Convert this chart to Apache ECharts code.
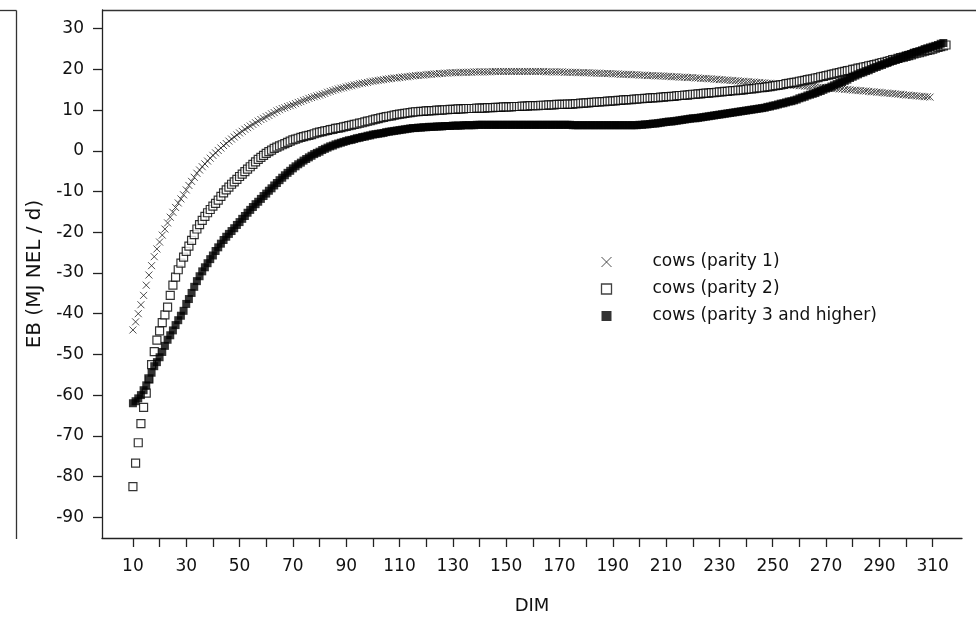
<!DOCTYPE html>
<html>
<head>
<meta charset="utf-8">
<title>Energy balance by days in milk</title>
<script src="https://cdn.jsdelivr.net/npm/echarts@6/dist/echarts.min.js"></script>
<style>
  html, body { margin: 0; padding: 0; background: #fff; }
  #chart { width: 978px; height: 620px; }
</style>
</head>
<body>
<div id="chart"></div>
<script>
// Days in milk: every series starts at this DIM and has one value per day.
const firstDim = 10;

// Energy balance (MJ NEL / d), parity 1, DIM 10..310
const parity1 = [
  -44.0, -42.0, -40.0, -37.8, -35.5, -33.0, -30.5, -28.2, -26.0, -24.1,
  -22.4, -20.7, -19.2, -17.7, -16.3, -15.1, -13.9, -12.8, -11.8, -10.8,
  -9.6, -8.5, -7.5, -6.5, -5.5, -4.7, -3.9, -3.2, -2.5, -1.8,
  -1.1, -0.5, 0.1, 0.7, 1.3, 1.8, 2.4, 2.9, 3.4, 3.9,
  4.4, 4.8, 5.3, 5.7, 6.1, 6.5, 6.9, 7.3, 7.7, 8.0,
  8.4, 8.7, 9.1, 9.4, 9.8, 10.1, 10.4, 10.6, 10.9, 11.1,
  11.3, 11.6, 11.9, 12.1, 12.4, 12.6, 12.9, 13.1, 13.3, 13.5,
  13.7, 13.9, 14.1, 14.4, 14.6, 14.8, 15.0, 15.2, 15.4, 15.5,
  15.7, 15.9, 16.0, 16.2, 16.3, 16.5, 16.6, 16.7, 16.8, 17.0,
  17.1, 17.2, 17.3, 17.4, 17.5, 17.6, 17.7, 17.8, 17.9, 17.9,
  18.0, 18.1, 18.2, 18.2, 18.3, 18.4, 18.5, 18.5, 18.6, 18.6,
  18.7, 18.8, 18.8, 18.9, 18.9, 19.0, 19.0, 19.1, 19.1, 19.2,
  19.2, 19.2, 19.2, 19.3, 19.3, 19.3, 19.3, 19.3, 19.4, 19.4,
  19.4, 19.4, 19.4, 19.4, 19.4, 19.5, 19.5, 19.5, 19.5, 19.5,
  19.5, 19.5, 19.5, 19.5, 19.5, 19.5, 19.5, 19.5, 19.5, 19.5,
  19.5, 19.5, 19.5, 19.5, 19.5, 19.4, 19.4, 19.4, 19.4, 19.4,
  19.4, 19.4, 19.3, 19.3, 19.3, 19.3, 19.3, 19.2, 19.2, 19.2,
  19.2, 19.2, 19.1, 19.1, 19.1, 19.1, 19.0, 19.0, 19.0, 19.0,
  18.9, 18.9, 18.9, 18.8, 18.8, 18.8, 18.8, 18.7, 18.7, 18.7,
  18.6, 18.6, 18.6, 18.5, 18.5, 18.5, 18.4, 18.4, 18.4, 18.4,
  18.3, 18.3, 18.2, 18.2, 18.2, 18.1, 18.1, 18.1, 18.0, 18.0,
  18.0, 17.9, 17.9, 17.8, 17.8, 17.8, 17.7, 17.7, 17.6, 17.6,
  17.5, 17.5, 17.4, 17.4, 17.3, 17.3, 17.2, 17.2, 17.1, 17.1,
  17.0, 17.0, 16.9, 16.9, 16.8, 16.8, 16.7, 16.7, 16.6, 16.6,
  16.5, 16.5, 16.4, 16.4, 16.3, 16.3, 16.2, 16.2, 16.1, 16.1,
  16.0, 16.0, 15.9, 15.9, 15.8, 15.8, 15.7, 15.6, 15.6, 15.5,
  15.5, 15.4, 15.4, 15.3, 15.3, 15.2, 15.2, 15.1, 15.1, 15.0,
  14.9, 14.9, 14.8, 14.8, 14.7, 14.7, 14.6, 14.5, 14.5, 14.4,
  14.4, 14.3, 14.2, 14.2, 14.1, 14.1, 14.0, 13.9, 13.9, 13.8,
  13.7, 13.7, 13.6, 13.6, 13.5, 13.4, 13.4, 13.3, 13.3, 13.2
];

// Energy balance (MJ NEL / d), parity 2, DIM 10..315
const parity2 = [
  -82.5, -76.7, -71.7, -67.0, -63.0, -59.5, -56.0, -52.5, -49.3, -46.5,
  -44.2, -42.2, -40.3, -38.4, -35.5, -33.0, -31.0, -29.2, -27.6, -26.1,
  -24.7, -23.4, -22.0, -20.6, -19.2, -18.1, -17.1, -16.1, -15.2, -14.4,
  -13.6, -12.9, -12.1, -11.2, -10.3, -9.6, -8.9, -8.2, -7.6, -7.0,
  -6.3, -5.7, -5.1, -4.5, -3.9, -3.3, -2.7, -2.1, -1.6, -1.1,
  -0.6, -0.2, 0.2, 0.6, 0.9, 1.2, 1.5, 1.8, 2.1, 2.4,
  2.7, 2.9, 3.1, 3.3, 3.5, 3.7, 3.8, 4.0, 4.2, 4.4,
  4.6, 4.7, 4.9, 5.0, 5.2, 5.3, 5.5, 5.6, 5.7, 5.9,
  6.0, 6.2, 6.3, 6.5, 6.6, 6.8, 6.9, 7.1, 7.3, 7.4,
  7.6, 7.8, 7.9, 8.1, 8.2, 8.4, 8.5, 8.6, 8.8, 8.9,
  9.0, 9.1, 9.2, 9.3, 9.4, 9.5, 9.6, 9.6, 9.7, 9.7,
  9.8, 9.8, 9.9, 9.9, 10.0, 10.0, 10.0, 10.1, 10.1, 10.2,
  10.2, 10.2, 10.3, 10.3, 10.3, 10.4, 10.4, 10.4, 10.4, 10.5,
  10.5, 10.5, 10.5, 10.6, 10.6, 10.6, 10.7, 10.7, 10.7, 10.8,
  10.8, 10.8, 10.8, 10.9, 10.9, 10.9, 11.0, 11.0, 11.0, 11.1,
  11.1, 11.1, 11.1, 11.2, 11.2, 11.2, 11.3, 11.3, 11.3, 11.4,
  11.4, 11.4, 11.4, 11.5, 11.5, 11.5, 11.6, 11.6, 11.7, 11.7,
  11.8, 11.8, 11.9, 11.9, 12.0, 12.0, 12.1, 12.1, 12.2, 12.2,
  12.3, 12.3, 12.4, 12.4, 12.5, 12.5, 12.6, 12.6, 12.7, 12.7,
  12.8, 12.8, 12.9, 12.9, 13.0, 13.0, 13.1, 13.1, 13.2, 13.2,
  13.3, 13.3, 13.4, 13.4, 13.5, 13.6, 13.6, 13.7, 13.7, 13.8,
  13.9, 13.9, 14.0, 14.0, 14.1, 14.2, 14.2, 14.3, 14.3, 14.4,
  14.5, 14.5, 14.6, 14.6, 14.7, 14.8, 14.8, 14.9, 14.9, 15.0,
  15.1, 15.2, 15.2, 15.3, 15.4, 15.5, 15.5, 15.6, 15.7, 15.8,
  15.9, 16.0, 16.1, 16.2, 16.3, 16.5, 16.6, 16.7, 16.8, 16.9,
  17.1, 17.2, 17.3, 17.5, 17.6, 17.7, 17.9, 18.0, 18.2, 18.3,
  18.5, 18.6, 18.8, 18.9, 19.1, 19.2, 19.4, 19.5, 19.7, 19.8,
  20.0, 20.1, 20.3, 20.4, 20.6, 20.7, 20.9, 21.0, 21.2, 21.3,
  21.5, 21.7, 21.8, 22.0, 22.2, 22.4, 22.5, 22.7, 22.9, 23.0,
  23.2, 23.4, 23.6, 23.8, 24.0, 24.1, 24.3, 24.5, 24.7, 24.8,
  25.0, 25.2, 25.4, 25.6, 25.8, 26.0
];

// Energy balance (MJ NEL / d), parity 3 and higher, DIM 10..315
const parity3 = [
  -62.0, -61.5, -60.8, -60.0, -58.8, -57.6, -56.1, -54.5, -52.9, -51.9,
  -50.7, -49.4, -47.9, -46.4, -45.3, -44.1, -42.8, -41.6, -40.5, -39.3,
  -37.6, -36.4, -34.9, -33.4, -32.0, -30.8, -29.6, -28.6, -27.6, -26.6,
  -25.7, -24.6, -23.7, -22.8, -21.9, -21.1, -20.4, -19.7, -19.0, -18.2,
  -17.5, -16.7, -16.0, -15.2, -14.5, -13.8, -13.1, -12.5, -11.8, -11.1,
  -10.5, -9.8, -9.2, -8.5, -7.9, -7.2, -6.6, -6.0, -5.4, -4.9,
  -4.3, -3.8, -3.3, -2.9, -2.4, -2.0, -1.6, -1.2, -0.8, -0.5,
  -0.2, 0.2, 0.5, 0.8, 1.1, 1.3, 1.6, 1.8, 2.0, 2.2,
  2.4, 2.6, 2.7, 2.9, 3.1, 3.2, 3.4, 3.5, 3.7, 3.8,
  4.0, 4.1, 4.2, 4.3, 4.4, 4.6, 4.7, 4.8, 4.9, 5.0,
  5.1, 5.2, 5.3, 5.4, 5.5, 5.6, 5.6, 5.7, 5.7, 5.8,
  5.8, 5.9, 5.9, 5.9, 6.0, 6.0, 6.0, 6.1, 6.1, 6.1,
  6.2, 6.2, 6.2, 6.2, 6.3, 6.3, 6.3, 6.3, 6.3, 6.4,
  6.4, 6.4, 6.4, 6.4, 6.4, 6.4, 6.4, 6.4, 6.4, 6.4,
  6.4, 6.4, 6.4, 6.4, 6.4, 6.4, 6.4, 6.4, 6.4, 6.4,
  6.4, 6.4, 6.4, 6.4, 6.4, 6.4, 6.4, 6.4, 6.4, 6.4,
  6.4, 6.4, 6.4, 6.4, 6.4, 6.3, 6.3, 6.3, 6.3, 6.3,
  6.3, 6.3, 6.3, 6.3, 6.3, 6.3, 6.3, 6.3, 6.3, 6.3,
  6.3, 6.3, 6.3, 6.3, 6.3, 6.3, 6.3, 6.3, 6.3, 6.3,
  6.4, 6.4, 6.5, 6.5, 6.6, 6.7, 6.7, 6.8, 6.9, 7.0,
  7.1, 7.2, 7.2, 7.3, 7.4, 7.5, 7.6, 7.7, 7.8, 7.9,
  8.0, 8.0, 8.1, 8.2, 8.3, 8.4, 8.5, 8.6, 8.7, 8.8,
  8.9, 9.0, 9.1, 9.2, 9.3, 9.4, 9.5, 9.6, 9.7, 9.8,
  9.9, 10.0, 10.1, 10.2, 10.3, 10.4, 10.5, 10.6, 10.8, 10.9,
  11.1, 11.2, 11.4, 11.6, 11.7, 11.9, 12.1, 12.2, 12.4, 12.6,
  12.9, 13.1, 13.3, 13.6, 13.8, 14.0, 14.2, 14.5, 14.7, 15.0,
  15.3, 15.5, 15.8, 16.1, 16.4, 16.7, 16.9, 17.2, 17.5, 17.9,
  18.2, 18.5, 18.8, 19.1, 19.3, 19.6, 19.8, 20.1, 20.4, 20.6,
  20.9, 21.1, 21.4, 21.6, 21.9, 22.1, 22.4, 22.6, 22.9, 23.1,
  23.4, 23.6, 23.8, 24.1, 24.3, 24.5, 24.7, 25.0, 25.2, 25.4,
  25.6, 25.8, 26.0, 26.3, 26.5
];

// Axis ticks and labels
const yTicks = [-90, -80, -70, -60, -50, -40, -30, -20, -10, 0, 10, 20, 30];
const xTicks = [10, 20, 30, 40, 50, 60, 70, 80, 90, 100, 110, 120, 130, 140, 150, 160,
  170, 180, 190, 200, 210, 220, 230, 240, 250, 260, 270, 280, 290, 300, 310];
const xLabels = [10, 30, 50, 70, 90, 110, 130, 150, 170, 190, 210, 230, 250, 270, 290, 310];

const seriesNames = ['cows (parity 1)', 'cows (parity 2)', 'cows (parity 3 and higher)'];

function toPoints(values) {
  return values.map((v, i) => [firstDim + i, v]);
}

const FONT = 'DejaVu Sans';
const crossPath = 'path://M0,0L10,10M10,0L0,10';

const chart = echarts.init(document.getElementById('chart'), null, { renderer: 'canvas' });

chart.setOption({
  animation: false,
  backgroundColor: '#ffffff',
  grid: { left: 102, top: 10, right: 16, bottom: 82, containLabel: false },
  xAxis: {
    type: 'value',
    min: -1.6,
    max: 321,
    name: 'DIM',
    nameLocation: 'middle',
    nameGap: 59,
    nameTextStyle: { fontFamily: FONT, fontSize: 18, color: '#111' },
    splitLine: { show: false },
    axisLine: { show: true, onZero: false, lineStyle: { color: '#222', width: 1.3 } },
    axisTick: { show: true, inside: false, length: 9, customValues: xTicks,
      lineStyle: { color: '#222', width: 1.3 } },
    axisLabel: { customValues: xLabels, margin: 20, fontFamily: FONT, fontSize: 17, color: '#111' }
  },
  yAxis: {
    type: 'value',
    min: -95.1,
    max: 34.6,
    name: 'EB (MJ NEL / d)',
    nameLocation: 'middle',
    nameGap: 57,
    nameTextStyle: { fontFamily: FONT, fontSize: 20, color: '#111' },
    splitLine: { show: false },
    axisLine: { show: true, onZero: false, lineStyle: { color: '#222', width: 1.3 } },
    axisTick: { show: true, inside: false, length: 9, customValues: yTicks,
      lineStyle: { color: '#222', width: 1.3 } },
    axisLabel: { customValues: yTicks, margin: 18, fontFamily: FONT, fontSize: 17, color: '#111' }
  },
  legend: {
    orient: 'vertical',
    left: 594,
    top: 247,
    itemWidth: 10,
    itemHeight: 10,
    itemGap: 7,
    selectedMode: false,
    textStyle: { fontFamily: FONT, fontSize: 17, color: '#111', lineHeight: 20, padding: [0, 0, 0, 36] },
    data: [
      { name: seriesNames[0], icon: crossPath,
        itemStyle: { color: 'none', borderColor: '#222', borderWidth: 1 } },
      { name: seriesNames[1], icon: 'rect',
        itemStyle: { color: '#fff', borderColor: '#111', borderWidth: 1.3 } },
      { name: seriesNames[2], icon: 'rect',
        itemStyle: { color: '#000', borderWidth: 0 } }
    ]
  },
  graphic: [
    // box lines above and to the left of the plot
    { type: 'line', shape: { x1: 102, y1: 10.5, x2: 976, y2: 10.5 },
      style: { stroke: '#333', lineWidth: 1.3 }, silent: true },
    { type: 'line', shape: { x1: 0, y1: 10.5, x2: 16.5, y2: 10.5 },
      style: { stroke: '#333', lineWidth: 1.3 }, silent: true },
    { type: 'line', shape: { x1: 16.5, y1: 10.5, x2: 16.5, y2: 539 },
      style: { stroke: '#333', lineWidth: 1.3 }, silent: true }
  ],
  series: [
    {
      name: seriesNames[0],
      type: 'scatter',
      symbol: crossPath,
      symbolSize: 7,
      itemStyle: { color: 'none', borderColor: '#222', borderWidth: 1 },
      emphasis: { disabled: true },
      data: toPoints(parity1)
    },
    {
      name: seriesNames[1],
      type: 'scatter',
      symbol: 'rect',
      symbolSize: 8,
      itemStyle: { color: '#fff', borderColor: '#000', borderWidth: 1.2 },
      emphasis: { disabled: true },
      data: toPoints(parity2)
    },
    {
      name: seriesNames[2],
      type: 'scatter',
      symbol: 'rect',
      symbolSize: 8,
      itemStyle: { color: '#000', borderWidth: 0 },
      emphasis: { disabled: true },
      data: toPoints(parity3)
    }
  ]
});
</script>
</body>
</html>
